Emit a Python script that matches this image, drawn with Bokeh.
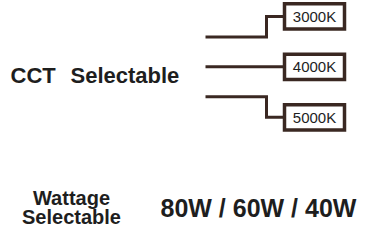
from bokeh.plotting import figure
from bokeh.models import Range1d, ColumnDataSource
from bokeh.core.properties import value
from bokeh.embed import file_html
from bokeh.resources import INLINE

# ---- data ----
cct_title = ["CCT", "Selectable"]
cct_options = ["3000K", "4000K", "5000K"]
wattage_title = ["Wattage", "Selectable"]
wattage_options = ["80W", "60W", "40W"]

# ---- layout (reference pixel coordinates) ----
LINE = "#3a2822"
TEXT = "#1e1e1e"
FONT = value("Liberation Sans")
src_x0, step_x, box_x0, box_w, box_h = 213, 274, 292, 60, 27
box_y0, box_dy = 21, 54
src_y0, src_dy = 75, 32

p = figure(width=372, height=228, output_backend="svg", toolbar_location=None,
           x_range=Range1d(8, 380), y_range=Range1d(248, 4),
           min_border=0, outline_line_color=None)
p.axis.visible = False
p.grid.visible = False
p.background_fill_color = "white"
p.border_fill_color = "white"

n = len(cct_options)
xs, ys, bx, by = [], [], [], []
for i, lab in enumerate(cct_options):
    yb = box_y0 + box_dy * i
    ys_src = src_y0 + (i - (n - 1) / 2) * src_dy
    xs.append([src_x0, step_x, step_x, box_x0])
    ys.append([ys_src, ys_src, yb, yb])
    bx.append(box_x0 + box_w / 2)
    by.append(yb)

p.multi_line(xs=xs, ys=ys, line_color=LINE, line_width=3, line_join="miter")
src = ColumnDataSource(dict(x=bx, y=by, t=cct_options))
p.rect(x="x", y="y", width=box_w, height=box_h, source=src,
       fill_color="white", line_color=LINE, line_width=3.5, line_join="miter")
p.text(x="x", y="y", text="t", source=src, text_align="center", text_baseline="middle",
       text_font=FONT, text_font_size="15px", text_color=TEXT)

p.text(x=[18, 78], y=[84, 84], text=cct_title, text_align="left", text_baseline="alphabetic",
       text_font=FONT, text_font_size="22px", text_font_style="bold", text_color=TEXT)

p.text(x=[79, 79], y=[215, 236], text=wattage_title, text_align="center",
       text_baseline="alphabetic", text_font=FONT, text_font_size="20px",
       text_font_style="bold", text_color=TEXT)

p.text(x=[168], y=[226], text=[" / ".join(wattage_options)], text_align="left",
       text_baseline="alphabetic", text_font=FONT, text_font_size="25px",
       text_font_style="bold", text_color=TEXT)

open("out.html", "w").write(file_html(p, INLINE))
